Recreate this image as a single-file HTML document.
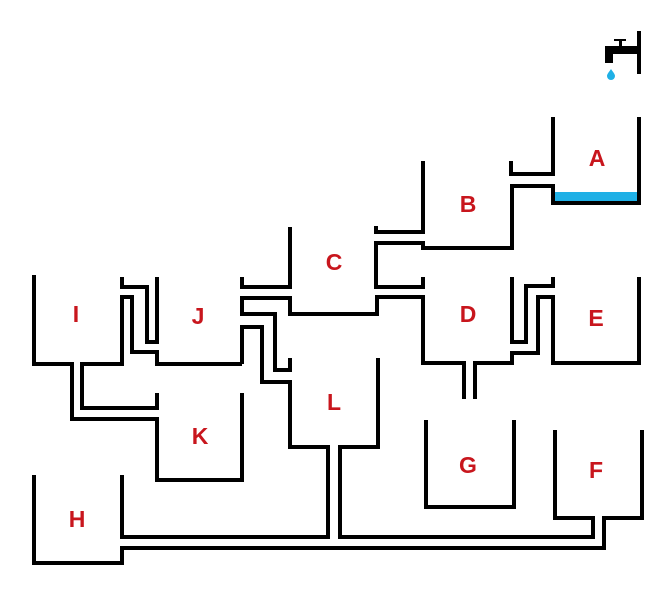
<!DOCTYPE html>
<html><head><style>
html,body{margin:0;padding:0;background:#fff;}
svg{display:block;}
text{font-family:"Liberation Sans",sans-serif;font-weight:bold;fill:#c8161d;font-size:23px;text-anchor:middle;}
</style></head><body>
<svg width="670" height="600" viewBox="0 0 670 600" xmlns="http://www.w3.org/2000/svg">
<g fill="none" stroke="#000" stroke-width="4" stroke-linejoin="miter" stroke-linecap="butt">
<!-- tap -->
<line x1="639" y1="31" x2="639" y2="74"/>
<!-- A -->
<polyline points="553,117 553,174 511,174 511,161"/>
<polyline points="639,117 639,203 553,203 553,186 512,186 512,248 423,248 423,243 376,243 376,287 423,287 423,277"/>
<!-- B -->
<polyline points="423,161 423,232 376,232 376,226"/>
<!-- C -->
<polyline points="290,227 290,287 242,287 242,277"/>
<polyline points="423,320 423,297 377,297 377,314 290,314 290,298 242,298 242,314 275,314 275,370 290,370 290,358"/>
<!-- D bottom -->
<polyline points="423,297 423,363 464,363 464,399"/>
<polyline points="475,399 475,363 512,363 512,353 538,353 538,297 553,297 553,363 639,363 639,277"/>
<polyline points="512,277 512,342 526,342 526,286 553,286 553,277"/>
<!-- J / L -->
<polyline points="242,364 242,327 262,327 262,382 290,382 290,447 328,447 328,537 122,537 122,475"/>
<polyline points="378,358 378,447 340,447 340,537 593,537 593,518 555,518 555,430"/>
<polyline points="642,430 642,518 604,518 604,548 122,548 122,563 34,563 34,475"/>
<!-- I / J / K -->
<polyline points="122,277 122,287 147,287 147,342 157,342 157,277"/>
<polyline points="157,393 157,408 82,408 82,364 122,364 122,297 132,297 132,352 157,352 157,364 242,364"/>
<polyline points="34,275 34,364 72,364 72,419 157,419 157,480 242,480 242,393"/>
<!-- G -->
<polyline points="426,420 426,507 514,507 514,420"/>
</g>
<!-- water -->
<rect x="555" y="192" width="82" height="9" fill="#1fb0e6"/>
<!-- tap -->
<rect x="605" y="46" width="34" height="8" fill="#000"/>
<rect x="605" y="46" width="8" height="17" fill="#000"/>
<rect x="619" y="40" width="3" height="7" fill="#000"/>
<rect x="614" y="39" width="12" height="2" fill="#000"/>
<path d="M611,69 C609,72 607,74 607,76 A4,4 0 0 0 615,76 C615,74 613,72 611,69 Z" fill="#1fb0e6"/>
<text x="597" y="166">A</text>
<text x="468" y="212">B</text>
<text x="334" y="270">C</text>
<text x="468" y="322">D</text>
<text x="596" y="326">E</text>
<text x="76" y="322">I</text>
<text x="198" y="324">J</text>
<text x="200" y="444">K</text>
<text x="334" y="410">L</text>
<text x="468" y="473">G</text>
<text x="596" y="478">F</text>
<text x="77" y="527">H</text>
</svg>
</body></html>
